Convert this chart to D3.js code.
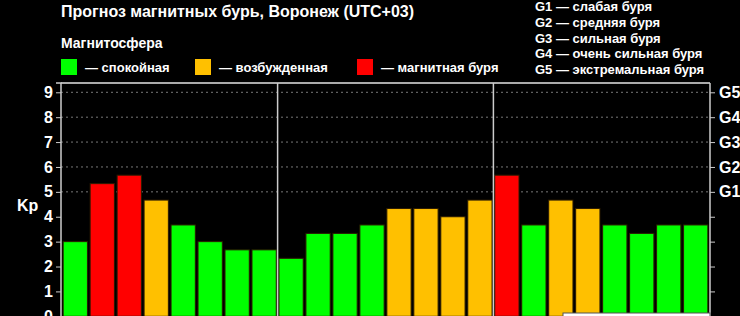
<!DOCTYPE html>
<html>
<head>
<meta charset="utf-8">
<script src="https://cdn.jsdelivr.net/npm/d3@7"></script>
<style>
  body { margin: 0; background: #000; }
  svg { display: block; font-family: "Liberation Sans", Arial, sans-serif; font-weight: bold; }
</style>
</head>
<body>
<svg></svg>
<script>
let width = 740;
let height = 316;

// data
let hours = ['00', '03', '06', '09', '12', '15', '18', '21'];
let days = ['day1', 'day2', 'day3'];
let kpDay1 = [3, 5.33, 5.67, 4.67, 3.67, 3, 2.67, 2.67];
let kpDay2 = [2.33, 3.33, 3.33, 3.67, 4.33, 4.33, 4, 4.67];
let kpDay3 = [5.67, 3.67, 4.67, 4.33, 3.67, 3.33, 3.67, 3.67];
let kpTicks = [0, 1, 2, 3, 4, 5, 6, 7, 8, 9];
let gLevels = [5, 6, 7, 8, 9];
let gLabels = ['G1', 'G2', 'G3', 'G4', 'G5'];
let stateNames = ['— спокойная', '— возбужденная', '— магнитная буря'];
let stateColors = ['#00ff00', '#ffc000', '#ff0000'];
let gNotes = ['G1 — слабая буря', 'G2 — средняя буря', 'G3 — сильная буря', 'G4 — очень сильная буря', 'G5 — экстремальная буря'];

let rows = [];
[kpDay1, kpDay2, kpDay3].forEach((arr, i) => {
  arr.forEach((v, j) => rows.push({ key: days[i] + '-' + hours[j], kp: v }));
});

let svg = d3.select('svg')
            .attr('width', width)
            .attr('height', height);

svg.append('rect').attr('width', width).attr('height', height).attr('fill', '#000');

let left = 61, right = 710;

let x = d3.scaleBand()
          .domain(rows.map(d => d.key))
          .range([left, right])
          .paddingInner(0.1)
          .paddingOuter(0.08);

let y = d3.scaleLinear()
          .domain([0, 9])
          .range([316.3, 92.3]);

let colorScale = d3.scaleThreshold()
                   .domain([4, 5])
                   .range(stateColors);

// grid for G levels
svg.append('g')
   .selectAll('line')
   .data(gLevels)
   .enter()
   .append('line')
   .attr('x1', left).attr('x2', right)
   .attr('y1', d => y(d)).attr('y2', d => y(d))
   .attr('stroke', '#777')
   .attr('stroke-width', 1)
   .attr('stroke-dasharray', '2,3');

// bars
svg.append('g')
   .selectAll('rect')
   .data(rows)
   .enter()
   .append('rect')
   .attr('x', d => x(d.key))
   .attr('y', d => y(d.kp))
   .attr('width', x.bandwidth())
   .attr('height', d => y(0) - y(d.kp))
   .attr('fill', d => colorScale(d.kp))
   .attr('stroke', '#2a1a00')
   .attr('stroke-width', 1);

// frame
let topY = 83;
svg.append('line').attr('x1', left).attr('x2', right).attr('y1', topY).attr('y2', topY)
   .attr('stroke', '#aaa').attr('stroke-width', 2);
[1, 2].forEach(i => {
  let xs = x(days[i] + '-' + hours[0]) - x.step() * x.paddingInner() / 2;
  svg.append('line').attr('x1', xs).attr('x2', xs).attr('y1', topY).attr('y2', height)
     .attr('stroke', '#ccc').attr('stroke-width', 1.5);
});

// left axis
let yAxisLeft = d3.axisLeft(y).tickValues(kpTicks).tickSize(5).tickPadding(3);
let gl = svg.append('g').attr('transform', `translate(${left},0)`).call(yAxisLeft);
gl.select('.domain').attr('stroke', '#ccc').attr('stroke-width', 1.5).attr('d', `M-5,${topY}H0V${height + 5}`);
gl.selectAll('.tick line').attr('stroke', '#ccc');
gl.selectAll('.tick text').attr('fill', '#fff').style('font-size', '16px').style('font-weight', 'bold');

// right axis
let yAxisRight = d3.axisRight(y).tickValues(kpTicks.slice(1)).tickSize(5).tickPadding(4)
                   .tickFormat(d => d >= 5 ? gLabels[d - 5] : '');
let gr = svg.append('g').attr('transform', `translate(${right},0)`).call(yAxisRight);
gr.select('.domain').attr('stroke', '#ccc').attr('stroke-width', 1.5).attr('d', `M0,${topY}V${height + 5}`);
gr.selectAll('.tick line').attr('stroke', '#ccc');
gr.selectAll('.tick text').attr('fill', '#fff').style('font-size', '16px').style('font-weight', 'bold');

svg.append('text').attr('x', 17).attr('y', 211).attr('fill', '#fff')
   .style('font-size', '16px').text('Kp');

// titles
svg.append('text').attr('x', 61).attr('y', 17).attr('fill', '#fff')
   .style('font-size', '16px').text('Прогноз магнитных бурь, Воронеж (UTC+03)');
svg.append('text').attr('x', 61).attr('y', 48).attr('fill', '#fff')
   .style('font-size', '14px').text('Магнитосфера');

// legend
let legendX = [61, 195, 357];
stateNames.forEach((name, i) => {
  svg.append('rect').attr('x', legendX[i]).attr('y', 59).attr('width', 16).attr('height', 16)
     .attr('fill', stateColors[i]);
  svg.append('text').attr('x', legendX[i] + 24).attr('y', 72).attr('fill', '#fff')
     .style('font-size', '13px').text(name);
});

svg.append('g')
   .selectAll('text')
   .data(gNotes)
   .enter()
   .append('text')
   .attr('x', 535)
   .attr('y', (d, i) => 11 + i * 15.8)
   .attr('fill', '#fff')
   .style('font-size', '13px')
   .text(d => d);

// cut-off box bottom right
svg.append('rect').attr('x', 563).attr('y', 313).attr('width', 147).attr('height', 10)
   .attr('fill', '#fff').attr('stroke', '#555');
</script>
</body>
</html>
